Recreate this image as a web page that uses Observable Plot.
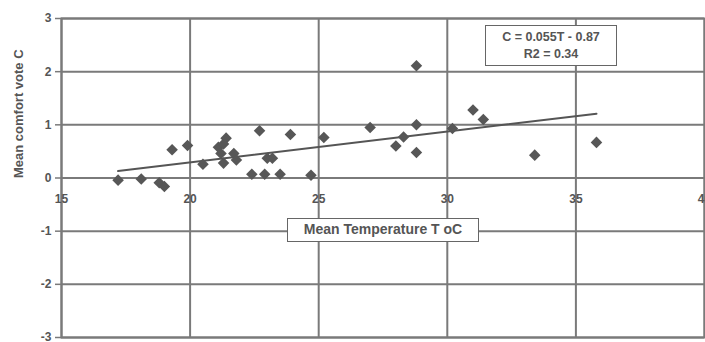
<!DOCTYPE html>
<html><head><meta charset="utf-8">
<script src="https://cdn.jsdelivr.net/npm/d3@7"></script>
<script src="https://cdn.jsdelivr.net/npm/@observablehq/plot@0.6"></script>
<style>
body{margin:0;background:#fff;}
#wrap{position:relative;width:705px;height:342px;overflow:hidden;background:#fff}
.box{position:absolute;background:#fff;border:1.5px solid #666;font-family:"Liberation Sans",Arial,sans-serif;font-weight:bold;color:#555;text-align:center;box-sizing:border-box;white-space:nowrap}
</style></head><body><div id="wrap"></div>
<script>
// Data
const temperature = [17.2, 18.1, 18.8, 19.0, 19.3, 19.9, 20.5, 21.1, 21.4, 21.3, 21.2, 21.3, 21.7, 21.8, 22.7, 23.0, 23.2, 22.4, 22.9, 23.5, 23.9, 24.7, 25.2, 27.0, 28.8, 28.8, 28.3, 28.0, 28.8, 30.2, 31.0, 31.4, 33.4, 35.8];
const comfortVote = [-0.04, -0.02, -0.09, -0.16, 0.53, 0.61, 0.26, 0.58, 0.75, 0.64, 0.46, 0.28, 0.46, 0.34, 0.89, 0.37, 0.37, 0.07, 0.07, 0.07, 0.82, 0.05, 0.76, 0.95, 2.11, 1.0, 0.77, 0.6, 0.48, 0.93, 1.28, 1.1, 0.43, 0.67];
const trendT = [17.2, 35.8];
const trendC = [0.13, 1.21];
const xTicks = [15, 20, 25, 30, 35, 40];
const yTicks = [-3, -2, -1, 0, 1, 2, 3];
const equationLines = ["C = 0.055T - 0.87", "R2 = 0.34"];
const xTitle = "Mean Temperature T oC";
const yTitle = "Mean comfort vote C";

const points = temperature.map((t, i) => ({t, c: comfortVote[i]}));
const trend = trendT.map((t, i) => ({t, c: trendC[i]}));
const grid = "#7a7a7a";
const ink = "#555";

const plot = Plot.plot({
  width: 705, height: 342,
  marginLeft: 61, marginRight: 1, marginTop: 18, marginBottom: 5,
  x: {domain: [15, 40], axis: null},
  y: {domain: [-3, 3], axis: null},
  style: {fontFamily: "'Liberation Sans', Arial, sans-serif", fontWeight: "bold", fontSize: "12px", color: ink, background: "#fff"},
  marks: [
    Plot.gridX(xTicks, {stroke: grid, strokeOpacity: 1, strokeWidth: 2}),
    Plot.gridY(yTicks, {stroke: grid, strokeOpacity: 1, strokeWidth: 2}),
    Plot.frame({stroke: grid, strokeWidth: 2}),
    Plot.axisY(yTicks, {tickSize: 6, tickPadding: 4, stroke: grid, strokeWidth: 1.5, fill: ink, label: null, tickFormat: d => d < 0 ? "-" + Math.abs(d) : String(d)}),
    Plot.text(xTicks, {x: d => d, y: d => 0, dy: 21, text: d => String(d), fill: ink, fontSize: 12}),
    Plot.line(trend, {x: "t", y: "c", stroke: "#555", strokeWidth: 2}),
    Plot.dot(points, {x: "t", y: "c", symbol: "diamond2", r: 5.2, fill: "#575757", stroke: "none"}),
    Plot.text([yTitle], {frameAnchor: "left", rotate: -90, dx: -43, fill: ink, fontSize: 13})
  ]
});
const wrap = document.getElementById("wrap");
wrap.appendChild(plot);

const eq = document.createElement("div");
eq.className = "box";
eq.style.cssText = "left:485px;top:25px;width:132px;height:41px;font-size:12.5px;line-height:17px;padding-top:3px;";
eq.innerHTML = equationLines.map(s => `<div>${s}</div>`).join("");
wrap.appendChild(eq);

const xt = document.createElement("div");
xt.className = "box";
xt.style.cssText = "left:287px;top:218px;width:192px;height:24px;font-size:14px;line-height:21px;";
xt.textContent = xTitle;
wrap.appendChild(xt);
</script>
</body></html>
